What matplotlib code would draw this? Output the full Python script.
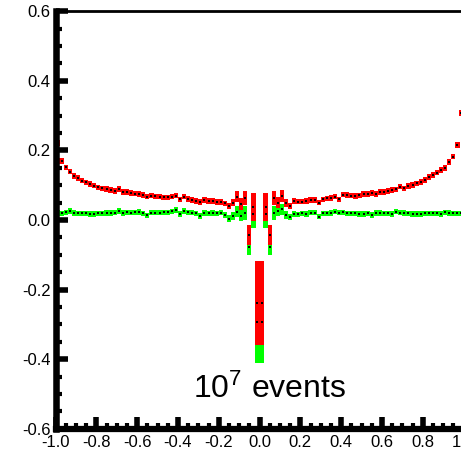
import numpy as np
import matplotlib
matplotlib.use('Agg')
import matplotlib.pyplot as plt
from matplotlib.ticker import MultipleLocator

plt.rcParams['font.family'] = ['Liberation Sans', 'DejaVu Sans']
plt.rcParams['mathtext.fontset'] = 'custom'
plt.rcParams['mathtext.rm'] = 'Liberation Sans'
plt.rcParams['axes.unicode_minus'] = False

# 100 bins between -1 and 1
edges = np.linspace(-1.0, 1.0, 101)

red = [0.222, 0.170, 0.151, 0.139, 0.127, 0.120, 0.113, 0.108, 0.103, 0.099,
       0.094, 0.091, 0.089, 0.086, 0.084, 0.089, 0.080, 0.080, 0.078, 0.076,
       0.075, 0.072, 0.067, 0.070, 0.068, 0.067, 0.065, 0.065, 0.067, 0.070,
       0.059, 0.067, 0.061, 0.058, 0.055, 0.051, 0.057, 0.054, 0.054, 0.052,
       0.052, 0.048, 0.040, 0.050, 0.067, 0.046, 0.064, -0.043, 0.037, -0.239,
       -0.239, 0.037, -0.043, 0.064, 0.050, 0.069, 0.048, 0.040, 0.055, 0.053,
       0.053, 0.055, 0.057, 0.057, 0.050, 0.059, 0.062, 0.064, 0.067, 0.059,
       0.073, 0.072, 0.070, 0.069, 0.071, 0.074, 0.074, 0.077, 0.074, 0.080,
       0.081, 0.084, 0.086, 0.088, 0.096, 0.091, 0.098, 0.101, 0.105, 0.110,
       0.115, 0.123, 0.129, 0.136, 0.144, 0.149, 0.166, 0.182, 0.216, 0.308]

red_err = [0.008, 0.008, 0.008, 0.008, 0.008, 0.008, 0.008, 0.008, 0.008, 0.008,
           0.008, 0.008, 0.008, 0.008, 0.008, 0.008, 0.008, 0.008, 0.008, 0.008,
           0.008, 0.008, 0.008, 0.008, 0.008, 0.008, 0.008, 0.008, 0.008, 0.008,
           0.008, 0.008, 0.008, 0.008, 0.008, 0.008, 0.008, 0.008, 0.008, 0.008,
           0.008, 0.008, 0.009, 0.011, 0.016, 0.016, 0.020, 0.030, 0.041, 0.121,
           0.121, 0.041, 0.030, 0.020, 0.016, 0.016, 0.011, 0.009, 0.008, 0.008,
           0.008, 0.008, 0.008, 0.008, 0.008, 0.008, 0.008, 0.008, 0.008, 0.008,
           0.008, 0.008, 0.008, 0.008, 0.008, 0.008, 0.008, 0.008, 0.008, 0.008,
           0.008, 0.008, 0.008, 0.008, 0.008, 0.008, 0.008, 0.008, 0.008, 0.008,
           0.008, 0.008, 0.008, 0.008, 0.008, 0.008, 0.008, 0.008, 0.008, 0.008]

green = [0.020, 0.019, 0.022, 0.026, 0.020, 0.019, 0.019, 0.019, 0.018, 0.018,
         0.019, 0.019, 0.020, 0.020, 0.021, 0.026, 0.020, 0.022, 0.021, 0.022,
         0.023, 0.019, 0.013, 0.021, 0.021, 0.021, 0.022, 0.022, 0.025, 0.029,
         0.017, 0.026, 0.022, 0.021, 0.019, 0.012, 0.020, 0.019, 0.020, 0.019,
         0.021, 0.015, 0.004, 0.012, 0.024, 0.012, 0.021, -0.077, 0.017, -0.293,
         -0.293, 0.017, -0.077, 0.021, 0.027, 0.031, 0.014, 0.008, 0.017, 0.016,
         0.019, 0.017, 0.021, 0.021, 0.010, 0.019, 0.019, 0.020, 0.024, 0.021,
         0.022, 0.019, 0.019, 0.019, 0.018, 0.018, 0.019, 0.015, 0.020, 0.020,
         0.019, 0.019, 0.018, 0.024, 0.021, 0.020, 0.019, 0.018, 0.018, 0.018,
         0.019, 0.019, 0.019, 0.019, 0.018, 0.022, 0.020, 0.019, 0.019, 0.019]

green_err = [0.008, 0.008, 0.008, 0.008, 0.008, 0.008, 0.008, 0.008, 0.008, 0.008,
             0.008, 0.008, 0.008, 0.008, 0.008, 0.008, 0.008, 0.008, 0.008, 0.008,
             0.008, 0.008, 0.008, 0.008, 0.008, 0.008, 0.008, 0.008, 0.008, 0.008,
             0.008, 0.008, 0.008, 0.008, 0.008, 0.008, 0.008, 0.008, 0.008, 0.008,
             0.008, 0.008, 0.009, 0.011, 0.016, 0.016, 0.020, 0.025, 0.041, 0.117,
             0.117, 0.041, 0.025, 0.020, 0.016, 0.016, 0.011, 0.009, 0.008, 0.008,
             0.008, 0.008, 0.008, 0.008, 0.008, 0.008, 0.008, 0.008, 0.008, 0.008,
             0.008, 0.008, 0.008, 0.008, 0.008, 0.008, 0.008, 0.008, 0.008, 0.008,
             0.008, 0.008, 0.008, 0.008, 0.008, 0.008, 0.008, 0.008, 0.008, 0.008,
             0.008, 0.008, 0.008, 0.008, 0.008, 0.008, 0.008, 0.008, 0.008, 0.008]

label = r'$\mathregular{10^7}$ events'

centers = (edges[:-1] + edges[1:]) / 2
width = edges[1] - edges[0]
red = np.array(red)
red_err = np.array(red_err)
green = np.array(green)
green_err = np.array(green_err)

fig = plt.figure(figsize=(4.61, 4.5), dpi=100)
ax = fig.add_axes([55.5 / 461, 21.2 / 450, 408 / 461, 417.6 / 450])

# error boxes, green under red, then the black points
ax.bar(centers, 2 * green_err, bottom=green - green_err, width=width * 1.05,
       color='#00ff00', linewidth=0)
ax.bar(centers, 2 * red_err, bottom=red - red_err, width=width * 1.05,
       color='#ff0000', linewidth=0)
ax.plot(centers, green, 's', color='black', markersize=1.8, markeredgewidth=0)
ax.plot(centers, red, 's', color='black', markersize=1.8, markeredgewidth=0)

ax.text(0.047, -0.511, label, fontsize=23, ha='center', va='baseline')

ax.set_xlim(-1.0, 1.0)
ax.set_ylim(-0.6, 0.6)
ax.xaxis.set_major_locator(MultipleLocator(0.2))
ax.xaxis.set_minor_locator(MultipleLocator(0.05))
ax.yaxis.set_major_locator(MultipleLocator(0.2))
ax.yaxis.set_minor_locator(MultipleLocator(0.05))
ax.xaxis.set_major_formatter(plt.FormatStrFormatter('%.1f'))
ax.yaxis.set_major_formatter(plt.FormatStrFormatter('%.1f'))

ax.spines['right'].set_visible(False)
ax.spines['top'].set_linewidth(2)
ax.spines['left'].set_linewidth(4.7)
ax.spines['bottom'].set_linewidth(4.5)

ax.tick_params(which='major', direction='in', length=8.3, width=4,
               labelsize=12, top=False, right=False)
ax.tick_params(which='minor', direction='in', length=4.5, width=3,
               top=False, right=False)
ax.tick_params(axis='y', which='major', pad=3.5)
ax.tick_params(axis='x', which='major', pad=4.5)

fig.savefig('out.png', dpi=100)
